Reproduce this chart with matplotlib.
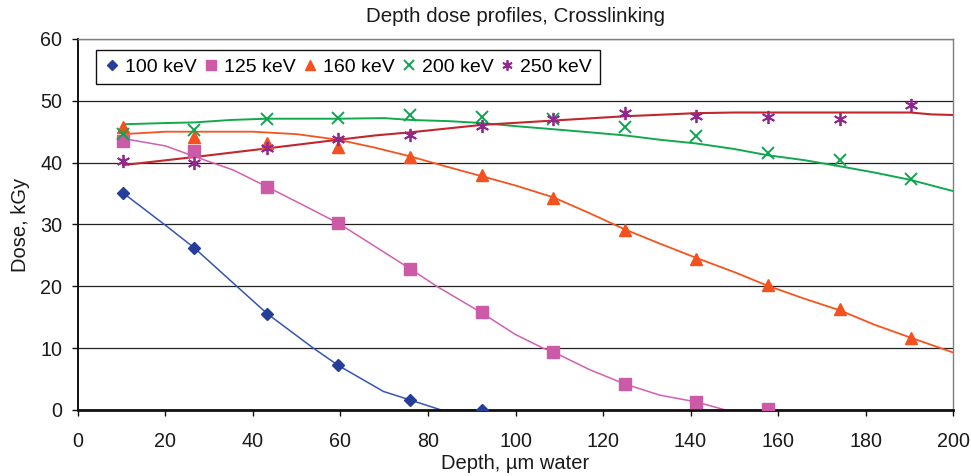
import matplotlib
matplotlib.use("Agg")
import matplotlib.pyplot as plt
from matplotlib.ticker import MultipleLocator

plt.rcParams['font.family'] = ['Liberation Sans', 'DejaVu Sans']

# ---- measured points ----
depth = [10.3, 26.6, 43.2, 59.5, 75.9, 92.3, 108.6, 125.0, 141.3, 157.6, 174.2, 190.3]

dose_100 = [35.1, 26.2, 15.6, 7.2, 1.6, 0.0]
dose_125 = [43.5, 41.9, 36.0, 30.2, 22.8, 15.8, 9.4, 4.2, 1.3, 0.2]
dose_160 = [45.7, 44.1, 43.2, 42.6, 40.9, 38.0, 34.2, 29.1, 24.4, 20.2, 16.4, 11.6]
dose_200 = [44.7, 45.2, 47.1, 47.2, 47.7, 47.4, 47.1, 45.8, 44.3, 41.6, 40.4, 37.4]
dose_250 = [40.2, 39.9, 42.3, 43.8, 44.5, 46.0, 47.1, 48.0, 47.5, 47.3, 47.1, 49.3]

# ---- fitted curves ----
fit100_x = [10.3, 20.3, 26.6, 36.3, 43.2, 53.8, 59.5, 69.8, 76.0, 83.0, 92.3]
fit100_y = [35.1, 29.7, 26.2, 20.0, 15.6, 10.0, 7.2, 3.0, 1.6, 0.0, 0.0]

fit125_x = [10.3, 20.0, 26.6, 35.5, 43.2, 51.0, 59.5, 68.0, 76.0, 82.0, 92.3, 100.0,
            106.3, 108.6, 117.0, 125.0, 133.0, 141.3, 148.0, 157.6]
fit125_y = [43.9, 42.7, 41.0, 38.8, 36.1, 33.3, 30.2, 26.4, 22.8, 20.0, 15.7, 12.2,
            10.0, 9.4, 6.5, 4.2, 2.4, 1.3, 0.0, 0.0]

fit160_x = [10.3, 20.0, 30.0, 40.0, 50.0, 59.5, 68.0, 76.0, 84.0, 92.3, 100.0, 108.6,
            117.0, 125.0, 133.0, 141.3, 150.0, 157.6, 166.0, 174.2, 182.0, 190.3, 200.0]
fit160_y = [44.6, 45.0, 45.0, 45.0, 44.6, 43.7, 42.4, 41.0, 39.4, 37.8, 36.3, 34.4,
            31.8, 29.2, 26.9, 24.6, 22.3, 20.1, 18.0, 16.1, 13.8, 11.7, 9.3]

fit200_x = [10.3, 20.0, 26.6, 35.0, 43.2, 59.5, 70.0, 76.0, 85.0, 92.3, 100.0, 108.6,
            117.0, 125.0, 133.0, 141.3, 150.0, 157.6, 166.0, 174.2, 182.0, 190.3, 200.0]
fit200_y = [46.2, 46.4, 46.5, 46.9, 47.1, 47.1, 47.2, 46.9, 46.7, 46.4, 45.9, 45.4,
            44.9, 44.4, 43.7, 43.1, 42.2, 41.2, 40.4, 39.4, 38.4, 37.2, 35.4]

fit250_x = [10.3, 26.6, 43.2, 59.5, 68.0, 76.0, 92.3, 108.6, 125.0, 135.0, 141.3, 150.0,
            157.6, 190.3, 195.0, 200.0]
fit250_y = [39.6, 40.9, 42.3, 43.7, 44.4, 44.9, 46.1, 46.8, 47.5, 47.8, 48.0, 48.1,
            48.1, 48.1, 47.8, 47.7]

labels = ["100 keV", "125 keV", "160 keV", "200 keV", "250 keV"]

fig = plt.figure(figsize=(9.71, 4.76), dpi=100)
ax = fig.add_axes([0.0803, 0.1387, 0.9012, 0.7795])

# gridlines
ax.set_axisbelow(True)
ax.yaxis.grid(True, color='#222222', linewidth=0.9)

# fitted curves
ax.plot(fit100_x, fit100_y, color='#3355B5', lw=1.1, zorder=2)
ax.plot(fit125_x, fit125_y, color='#D15FAE', lw=1.1, zorder=2)
ax.plot(fit160_x, fit160_y, color='#F5541F', lw=1.3, zorder=2)
ax.plot(fit200_x, fit200_y, color='#12A84E', lw=1.4, zorder=2)
ax.plot(fit250_x, fit250_y, color='#C1272D', lw=1.5, zorder=2)

# measured points
ax.plot(depth[:len(dose_100)], dose_100, ls='none', marker='D', ms=6.2,
        color='#263D99', mec='#263D99', label=labels[0], zorder=3)
ax.plot(depth[:len(dose_125)], dose_125, ls='none', marker='s', ms=8.4,
        color='#CC5AA6', mec='#CC5AA6', label=labels[1], zorder=3)
ax.plot(depth[:len(dose_160)], dose_160, ls='none', marker='^', ms=9.2,
        color='#F4511E', mec='#F4511E', label=labels[2], zorder=3)
ax.plot(depth[:len(dose_200)], dose_200, ls='none', marker='x', ms=9.0, mew=1.4,
        color='#0DA54F', label=labels[3], zorder=3)
ax.plot(depth[:len(dose_250)], dose_250, ls='none', marker=(6, 2, 0), ms=9.5, mew=1.3,
        color='#93278F', label=labels[4], zorder=3)

ax.set_xlim(0, 200)
ax.set_ylim(0, 60)
ax.xaxis.set_major_locator(MultipleLocator(20))
ax.yaxis.set_major_locator(MultipleLocator(10))

for s in ['top', 'right']:
    ax.spines[s].set_color('#7f7f7f')
    ax.spines[s].set_linewidth(1.0)
ax.spines['left'].set_color('#111111')
ax.spines['left'].set_linewidth(1.4)
ax.spines['bottom'].set_color('#111111')
ax.spines['bottom'].set_linewidth(2.0)

ax.tick_params(axis='both', direction='out', length=4.3, width=1.0, color='#111111',
               labelsize=14.2, labelcolor='#1a1a1a')
ax.tick_params(axis='x', pad=11.5)
ax.tick_params(axis='y', pad=7)

ax.set_title("Depth dose profiles, Crosslinking", fontsize=14.8, color='#1a1a1a', pad=12)
ax.set_xlabel("Depth, \u00b5m water", fontsize=14.5, color='#1a1a1a', labelpad=2.5)
ax.set_ylabel("Dose, kGy", fontsize=14.5, color='#1a1a1a', labelpad=7.5)

leg = ax.legend(loc='upper left', bbox_to_anchor=(0.021, 0.97), ncol=5, fontsize=14,
                frameon=True, fancybox=False, edgecolor='#111111', framealpha=1,
                markerscale=0.78,
                handlelength=0.8, handletextpad=0.27, columnspacing=0.32,
                borderpad=0.42, borderaxespad=0.0)
leg.get_frame().set_linewidth(1.0)

fig.savefig("out.png", dpi=100)
